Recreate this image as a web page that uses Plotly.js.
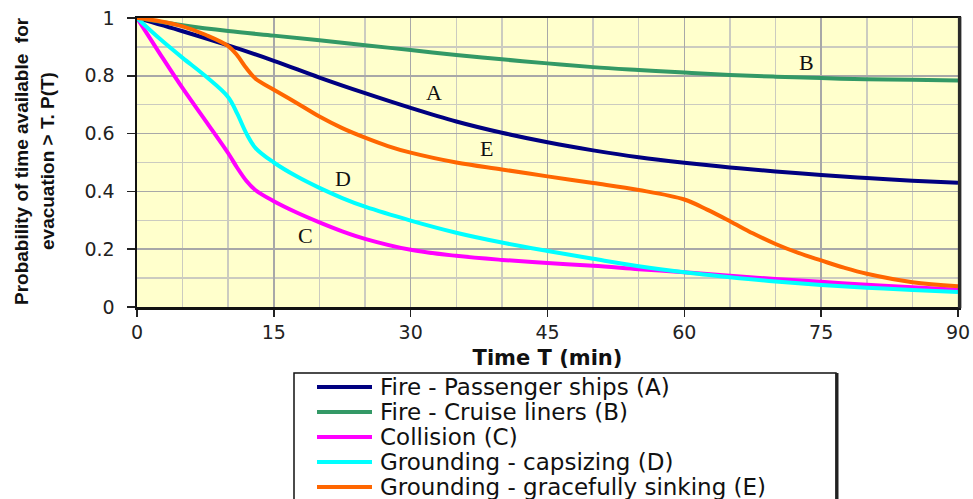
<!DOCTYPE html>
<html>
<head>
<meta charset="utf-8">
<script src="https://cdn.plot.ly/plotly-3.0.1.min.js"></script>
<style>
  html, body { margin: 0; padding: 0; background: #ffffff; }
  #chart { width: 973px; height: 499px; }
</style>
</head>
<body>
<div id="chart"></div>
<script>
// Probability that the time available for evacuation exceeds T, per scenario.
const seriesNames = [
  'Fire - Passenger ships (A)',
  'Fire - Cruise liners (B)',
  'Collision (C)',
  'Grounding - capsizing (D)',
  'Grounding - gracefully sinking (E)'
];
const curveTags = ['A', 'B', 'C', 'D', 'E'];
const curveColors = ['#000080', '#339966', '#ff00ff', '#00ffff', '#ff6600'];

// Time in minutes and P(T) for each scenario
const timeA = [0, 5, 10, 15, 20, 25, 30, 35, 40, 45, 50, 55, 60, 65, 70, 75, 80, 85, 90];
const probA = [1, 0.954, 0.905, 0.852, 0.794, 0.740, 0.689, 0.642, 0.603, 0.570, 0.542, 0.518, 0.499, 0.483, 0.469, 0.457, 0.446, 0.437, 0.430];

const timeB = [0, 5, 10, 15, 20, 25, 30, 35, 40, 45, 50, 55, 60, 65, 70, 75, 80, 85, 90];
const probB = [1, 0.975, 0.955, 0.939, 0.923, 0.906, 0.889, 0.872, 0.857, 0.843, 0.830, 0.820, 0.811, 0.803, 0.797, 0.792, 0.788, 0.786, 0.784];

const timeC = [0, 2.5, 5, 7.5, 10, 11, 12, 13, 15, 17.5, 20, 22.5, 25, 30, 35, 40, 45, 50, 55, 60, 65, 70, 75, 80, 85, 90];
const probC = [1, 0.877, 0.757, 0.645, 0.532, 0.481, 0.436, 0.404, 0.366, 0.327, 0.293, 0.262, 0.236, 0.198, 0.177, 0.163, 0.152, 0.143, 0.131, 0.120, 0.108, 0.097, 0.087, 0.077, 0.068, 0.060];

const timeD = [0, 2.5, 5, 7.5, 10, 11, 12, 13, 15, 17.5, 20, 22.5, 25, 30, 35, 40, 45, 50, 55, 60, 65, 70, 75, 80, 85, 90];
const probD = [1, 0.928, 0.862, 0.799, 0.726, 0.668, 0.600, 0.550, 0.500, 0.452, 0.412, 0.377, 0.347, 0.299, 0.257, 0.223, 0.194, 0.167, 0.141, 0.120, 0.103, 0.088, 0.076, 0.067, 0.059, 0.052];

const timeE = [0, 2.5, 5, 7.5, 10, 11, 12, 13, 15, 17.5, 20, 22.5, 25, 27.5, 30, 35, 40, 45, 50, 55, 60, 62.5, 65, 67.5, 70, 72.5, 75, 77.5, 80, 85, 90];
const probE = [1, 0.989, 0.971, 0.942, 0.903, 0.870, 0.826, 0.790, 0.752, 0.706, 0.659, 0.619, 0.586, 0.557, 0.534, 0.500, 0.476, 0.452, 0.429, 0.405, 0.372, 0.337, 0.297, 0.255, 0.218, 0.187, 0.161, 0.136, 0.115, 0.086, 0.072];

// Where each curve letter sits (minutes, probability)
const tagTimes = [32.6, 73.4, 18.5, 22.6, 38.3];
const tagProbs = [0.743, 0.847, 0.249, 0.445, 0.547];

const xTicks = [0, 15, 30, 45, 60, 75, 90];
const yTicks = [0, 0.2, 0.4, 0.6, 0.8, 1];

const times = [timeA, timeB, timeC, timeD, timeE];
const probs = [probA, probB, probC, probD, probE];

const traces = times.map((t, i) => ({
  type: 'scatter',
  mode: 'lines',
  x: t,
  y: probs[i],
  name: seriesNames[i],
  line: { color: curveColors[i], width: 4, shape: 'spline', smoothing: 1 },
  showlegend: false,
  cliponaxis: true
}));

// Plot-area geometry (pixels) used to place the framed key below the chart
const W = 973, H = 499;
const M = { l: 137, r: 15, t: 18, b: 192 };
const plotW = W - M.l - M.r, plotH = H - M.t - M.b;
const px = x => (x - M.l) / plotW;
const py = y => (H - M.b - y) / plotH;

const shapes = [];
const annotations = [];

// Curve letters
curveTags.forEach((tag, i) => {
  annotations.push({
    x: tagTimes[i], y: tagProbs[i], xref: 'x', yref: 'y',
    text: tag, showarrow: false, xanchor: 'center', yanchor: 'middle',
    font: { family: 'Liberation Serif, Times New Roman, serif', size: 22, color: '#111111' }
  });
});

// Heavier right edge of the plot frame
shapes.push({
  type: 'line', xref: 'paper', yref: 'paper', x0: 1.002, x1: 1.002, y0: -0.004, y1: 1.004,
  line: { color: '#2a2a2a', width: 3.5 }, layer: 'above'
});

// Framed key
const keyLeft = 294, keyRight = 836, keyTop = 373, keyBottom = 540;
shapes.push({
  type: 'rect', xref: 'paper', yref: 'paper',
  x0: px(keyLeft), x1: px(keyRight), y0: py(keyTop), y1: py(keyBottom),
  line: { color: '#111111', width: 1.5 }, fillcolor: '#ffffff', layer: 'below'
});
shapes.push({
  type: 'line', xref: 'paper', yref: 'paper',
  x0: px(keyRight + 1), x1: px(keyRight + 1), y0: py(keyTop), y1: py(keyBottom),
  line: { color: '#222222', width: 3 }
});
seriesNames.forEach((name, i) => {
  const rowY = 387 + 25 * i;
  shapes.push({
    type: 'line', xref: 'paper', yref: 'paper',
    x0: px(317), x1: px(372), y0: py(rowY), y1: py(rowY),
    line: { color: curveColors[i], width: 4 }
  });
  annotations.push({
    x: px(378), y: py(rowY), xref: 'paper', yref: 'paper',
    text: name, showarrow: false, xanchor: 'left', yanchor: 'middle',
    font: { family: 'DejaVu Sans, Arial, sans-serif', size: 23, color: '#111111' }
  });
});

// Two-line vertical axis caption
const yCaption = ['Probability of time available  for', 'evacuation > T. P(T)'];
const yCaptionX = [21, 47];
yCaption.forEach((txt, i) => {
  annotations.push({
    x: px(yCaptionX[i]), y: py(161), xref: 'paper', yref: 'paper',
    text: '<b>' + txt + '</b>', showarrow: false, textangle: -90,
    xanchor: 'center', yanchor: 'middle',
    font: { family: 'Liberation Sans, Arial, sans-serif', size: 19, color: '#111111' }
  });
});

const tickFont = { family: 'DejaVu Sans, Arial, sans-serif', size: 19, color: '#222222' };

const layout = {
  width: W, height: H,
  margin: M,
  paper_bgcolor: '#ffffff',
  plot_bgcolor: '#ffffcc',
  showlegend: false,
  xaxis: {
    range: [0, 90],
    tickmode: 'array', tickvals: xTicks, ticktext: xTicks.map(String),
    ticks: 'outside', ticklen: 7, tickwidth: 1.5, tickcolor: '#222222',
    tickfont: tickFont,
    showline: true, linecolor: '#111111', linewidth: 2.5, mirror: true,
    showgrid: true, gridcolor: '#a8a8a8', gridwidth: 1.5,
    minor: { dtick: 5, tick0: 0, showgrid: true, gridcolor: '#cbcbc0', gridwidth: 1.5, ticks: '' },
    zeroline: false,
    title: { text: '<b>Time T (min)</b>', standoff: 8,
             font: { family: 'DejaVu Sans, Arial, sans-serif', size: 21, color: '#111111' } }
  },
  yaxis: {
    range: [0, 1],
    tickmode: 'array', tickvals: yTicks, ticktext: yTicks.map(String),
    ticks: 'outside', ticklen: 8, tickwidth: 1.5, tickcolor: '#222222',
    ticklabelstandoff: 8,
    tickfont: tickFont,
    showline: true, linecolor: '#111111', linewidth: 2.5, mirror: true,
    showgrid: true, gridcolor: '#a8a8a8', gridwidth: 1.5,
    minor: { dtick: 0.1, tick0: 0, showgrid: true, gridcolor: '#cbcbc0', gridwidth: 1.5, ticks: '' },
    zeroline: false
  },
  shapes: shapes,
  annotations: annotations
};

Plotly.newPlot('chart', traces, layout, { staticPlot: true, displayModeBar: false });
</script>
</body>
</html>
